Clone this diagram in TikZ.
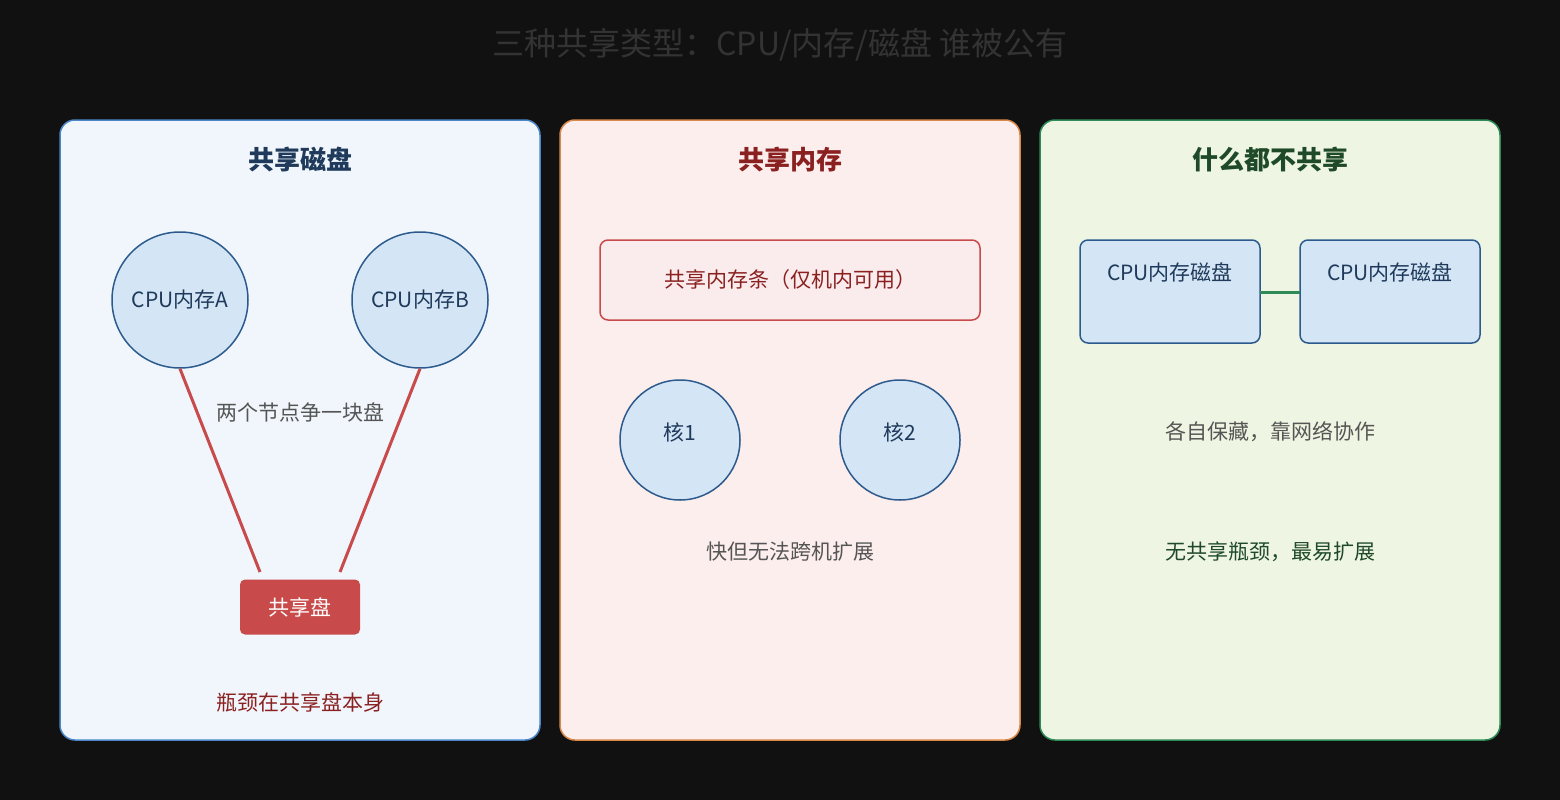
\documentclass[tikz,border=0pt]{standalone}
\usepackage{fontspec}
\setmainfont{Noto Sans CJK SC}
\begin{document}
\begin{tikzpicture}[x=1pt,y=-1pt,
 panel/.style={rounded corners=15pt,line width=1.5pt},
 circ/.style={circle,draw=cb,fill=cf,line width=1.5pt,inner sep=0pt},
 box/.style={draw=cb,fill=cf,line width=1.5pt,rounded corners=8pt},
 ptitle/.style={font=\fontsize{26}{30}\selectfont\bfseries},
 lbl/.style={font=\fontsize{21}{25}\selectfont}]
\definecolor{bg}{HTML}{111111}
\definecolor{cf}{HTML}{D4E6F6}
\definecolor{cb}{HTML}{2C5A8C}
\definecolor{rd}{HTML}{C84A4A}
\definecolor{gtx}{HTML}{555555}
\definecolor{pb1}{HTML}{4A86C8}
\definecolor{ttl}{HTML}{333333}
\definecolor{grn}{HTML}{2E8B57}
\definecolor{dblue}{HTML}{1F3A5A}
\definecolor{dred}{HTML}{8B2020}
\definecolor{dgrn}{HTML}{1F4A2A}
\definecolor{org}{HTML}{D8884A}
\fill[bg] (0,0) rectangle (1560,800);
\useasboundingbox (0,0) rectangle (1560,800);
\node[font=\fontsize{32}{36}\selectfont,text=ttl] (title) at (780,45) {三种共享类型：CPU/内存/磁盘 谁被公有};
% panel 1
\draw[panel,draw=pb1,fill={rgb,255:red,240;green,246;blue,252}] (60,120) rectangle (540,740);
\node[ptitle,text=dblue] (t1) at (300,160) {共享磁盘};
\node[circ,minimum size=136pt,lbl,text=dblue] (a) at (180,300) {CPU内存A};
\node[circ,minimum size=136pt,lbl,text=dblue] (b) at (420,300) {CPU内存B};
\node[fill=rd,rounded corners=5pt,minimum width=120pt,minimum height=55pt,text=white,lbl] (disk) at (300,607) {共享盘};
\coordinate (d1) at (260,572); \coordinate (d2) at (340,572);
\draw[draw=rd,line width=3pt] (a.south) -- (d1);
\draw[draw=rd,line width=3pt] (b.south) -- (d2);
\node[lbl,text=gtx] (l1) at (300,412) {两个节点争一块盘};
\node[lbl,text=dred] (l2) at (300,702) {瓶颈在共享盘本身};
% panel 2
\draw[panel,draw=org,fill={rgb,255:red,253;green,238;blue,238}] (560,120) rectangle (1020,740);
\node[ptitle,text=dred] (t2) at (790,160) {共享内存};
\draw[draw=rd,fill={rgb,255:red,250;green,236;blue,236},line width=1.5pt,rounded corners=8pt] (600,240) rectangle (980,320);
\node[lbl,text=dred] (mem) at (790,280) {共享内存条（仅机内可用）};
\node[circ,minimum size=120pt] (c1) at (680,440) {};
\node[lbl,text=dblue] (k1) at (680,432) {核1};
\node[circ,minimum size=120pt] (c2) at (900,440) {};
\node[lbl,text=dblue] (k2) at (900,432) {核2};
\node[lbl,text=gtx] (l3) at (790,552) {快但无法跨机扩展};
% panel 3
\draw[panel,draw=grn,fill={rgb,255:red,238;green,245;blue,226}] (1040,120) rectangle (1500,740);
\node[ptitle,text=dgrn] (t3) at (1270,160) {什么都不共享};
\draw[box] (1080,240) rectangle (1260,343);
\draw[box] (1300,240) rectangle (1480,343);
\node[lbl,text=dblue] (n1) at (1170,272) {CPU内存磁盘};
\node[lbl,text=dblue] (n2) at (1390,272) {CPU内存磁盘};
\coordinate (e1) at (1260,292); \coordinate (e2) at (1300,292);
\draw[draw=grn,line width=3pt] (e1) -- (e2);
\node[lbl,text=gtx] (l4) at (1270,432) {各自保藏，靠网络协作};
\node[lbl,text=dgrn] (l5) at (1270,552) {无共享瓶颈，最易扩展};
\end{tikzpicture}
\end{document}
